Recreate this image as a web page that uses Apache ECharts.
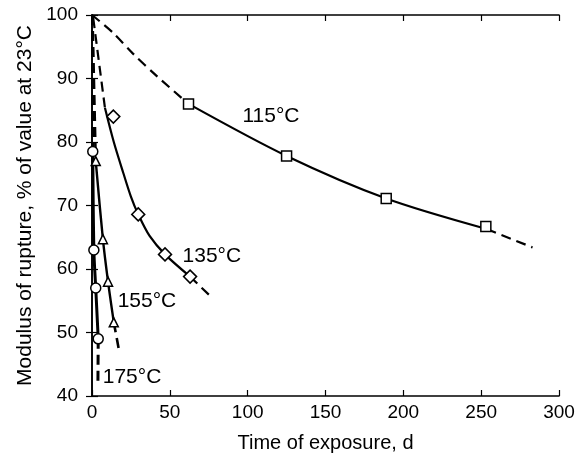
<!DOCTYPE html>
<html>
<head>
<meta charset="utf-8">
<script src="https://cdn.jsdelivr.net/npm/echarts@6/dist/echarts.min.js"></script>
<style>html,body{margin:0;padding:0;background:#fff}#c{width:583px;height:458px}</style>
</head>
<body>
<div id="c"></div>
<script>
// x ticks / y ticks
const xTicks = [0, 50, 100, 150, 200, 250, 300];
const yTicks = [40, 50, 60, 70, 80, 90, 100];

// 115 °C
const c115Head = [[0,100],[13.5,97.2],[26,94],[42,90.3],[62,86]];
const c115Solid = [[62,86],[125,77.8],[189,71.1],[253.5,66.3]];
const c115Tail = [[253.5,66.3],[283,63.4]];
const c115Pts = [[62,86],[125,77.8],[189,71.1],[253,66.7]];

// 135 °C
const c135Head = [[0.8,99.5],[8.3,85.4]];
const c135Solid = [[8.3,85.4],[14,80],[20,75.2],[25,71.4],[29.7,68.6],[37,65.2],[46.9,62.3],[63,58.8]];
const c135Tail = [[63,58.8],[77,55.5]];
const c135Pts = [[13.7,84],[29.7,68.6],[46.9,62.3],[63,58.8]];

// 155 °C
const c155Head = [[0.3,100],[2.4,77]];
const c155Solid = [[2.4,77],[7,64.7],[10.3,58],[14,51.6]];
const c155Tail = [[14,51.6],[17.5,47]];
const c155Pts = [[2.4,77],[7,64.7],[10.3,58],[14,51.6]];

// 175 °C
const c175Head = [[0.3,100],[0.5,78.5]];
const c175Solid = [[0.5,78.5],[1.2,63],[2.4,57],[4,49]];
const c175Tail = [[4,49],[3.8,42]];
const c175Pts = [[0.5,78.5],[1.2,63],[2.4,57],[4,49]];

// curve labels: [text, x, y]
const curveLabels = [['115°C',115,84],['135°C',77,62],['155°C',35.3,54.9],['175°C',25.7,43]];

const FONT = 'Liberation Sans';
const dash = [10, 6];

function line(data, dashed, w) {
  return {type:'line', data, showSymbol:false, smooth: data.length > 2 ? 0.3 : false,
    lineStyle:{color:'#000', width:w || 2.2, type: dashed ? dash : 'solid'}, silent:true, z:2};
}
function pts(data, symbol, size) {
  return {type:'scatter', data, symbol, symbolSize:size,
    itemStyle:{color:'#fff', borderColor:'#000', borderWidth:1.5, opacity:1}, z:5, silent:true};
}

const chart = echarts.init(document.getElementById('c'), null, {renderer:'canvas'});
const axisCommon = {
  axisLine:{show:true, lineStyle:{color:'#000', width:1.6}},
  axisTick:{show:true, inside:true, length:6, lineStyle:{color:'#000', width:1.2}},
  splitLine:{show:false}
};
chart.setOption({
  animation:false,
  backgroundColor:'#fff',
  grid:{left:92, right:24, top:15, bottom:61},
  xAxis:[
    Object.assign({type:'value', min:xTicks[0], max:xTicks[xTicks.length-1], interval:50, position:'bottom',
      name:'Time of exposure, d', nameLocation:'middle', nameGap:37,
      nameTextStyle:{fontFamily:FONT, fontSize:20, color:'#000'},
      axisLabel:{fontFamily:FONT, fontSize:19, color:'#000', margin:7}}, axisCommon),
    Object.assign({type:'value', min:0, max:300, interval:50, position:'top', axisLabel:{show:false}}, axisCommon)
  ],
  yAxis:[
    Object.assign({type:'value', min:yTicks[0], max:yTicks[yTicks.length-1], interval:10, position:'left',
      name:'Modulus of rupture, % of value at 23°C', nameLocation:'middle', nameGap:56,
      nameTextStyle:{fontFamily:FONT, fontSize:21, color:'#000'},
      axisLabel:{fontFamily:FONT, fontSize:19, color:'#000', margin:14}}, axisCommon),
    Object.assign({type:'value', min:40, max:100, interval:10, position:'right', axisLabel:{show:false}}, axisCommon)
  ],
  series:[
    line(c115Head, true), line(c115Solid, false), line(c115Tail, true),
    line(c135Head, true), line(c135Solid, false), line(c135Tail, true),
    line(c155Head, true, 2.6), line(c155Solid, false, 2.4), line(c155Tail, true, 2.6),
    line(c175Head, true, 3), line(c175Solid, false, 3), line(c175Tail, true, 3),
    pts(c115Pts, 'rect', 10), pts(c135Pts, 'diamond', 13), pts(c155Pts, 'triangle', 9), pts(c175Pts, 'circle', 10),
    {type:'scatter', symbolSize:1, silent:true, z:6,
     itemStyle:{opacity:1, color:'transparent'},
     data: curveLabels.map(l => ({value:[l[1], l[2]], name:l[0]})),
     label:{show:true, position:'inside', formatter:p => p.name, fontFamily:FONT, fontSize:21, color:'#000', opacity:1}}
  ]
});
</script>
</body>
</html>
